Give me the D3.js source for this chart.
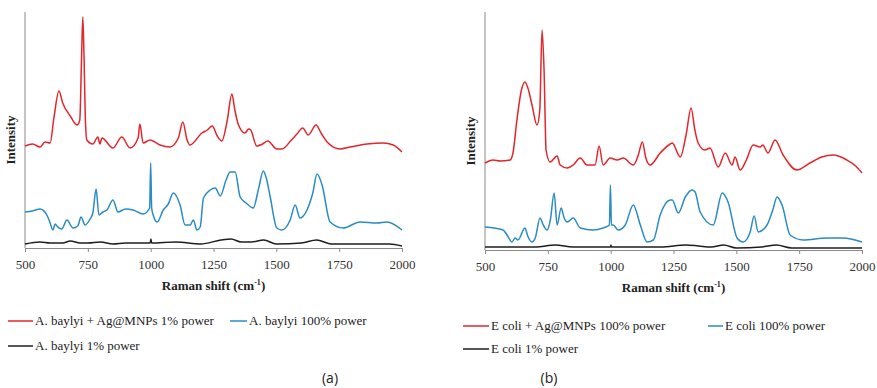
<!DOCTYPE html>
<html>
<head>
<meta charset="utf-8">
<script src="https://cdn.jsdelivr.net/npm/d3@7"></script>
<style>
  body { margin: 0; background: #fff; }
  svg text { font-family: "Liberation Serif", "DejaVu Serif", serif; }
</style>
</head>
<body>
<script>
const width = 877;
const height = 388;

// tick values for x (Raman shift)
const xTicks = [500, 750, 1000, 1250, 1500, 1750, 2000];

// (a) A. baylyi, [wavenumber, intensity a.u.]
const baylyiAg = [[500,102],[530,104],[560,101],[580,106],[600,105],[615,130],[635,157],[650,145],[680,132],[707,123],[718,128],[725,190],[730,231],[735,190],[740,130],[746,108],[770,104],[790,111],[798,104],[806,110],[850,100],[885,111],[918,100],[950,110],[957,124],[970,105],[998,108],[1037,103],[1077,101],[1110,110],[1128,126],[1145,108],[1156,103],[1204,115],[1225,118],[1245,122],[1265,112],[1283,107],[1305,128],[1323,154],[1335,138],[1348,124],[1375,115],[1390,119],[1398,118],[1422,102],[1445,104],[1466,107],[1502,99],[1522,99],[1560,108],[1582,114],[1605,120],[1627,113],[1658,123],[1680,114],[1702,106],[1754,99],[1794,101],[1861,104],[1925,105],[1965,103],[2000,96]];
const baylyi100 = [[500,36],[530,37],[560,39],[587,33],[600,25],[611,18],[620,24],[627,22],[646,19],[667,28],[691,20],[710,22],[723,31],[739,23],[759,29],[770,35],[783,59],[794,33],[810,36],[826,38],[850,48],[870,36],[900,39],[930,38],[970,34],[996,40],[1000,85],[1004,40],[1010,33],[1026,26],[1050,38],[1070,44],[1090,55],[1117,43],[1137,23],[1157,23],[1170,28],[1184,18],[1197,21],[1210,50],[1237,58],[1257,60],[1277,52],[1300,68],[1316,76],[1336,76],[1356,51],[1380,45],[1408,40],[1430,60],[1448,77],[1460,70],[1475,52],[1502,20],[1522,18],[1555,28],[1575,43],[1594,30],[1622,38],[1645,55],[1662,74],[1682,63],[1714,26],[1766,20],[1833,26],[1900,25],[1940,26],[2000,18]];
const baylyi1 = [[500,4],[560,6],[600,5],[650,5],[680,7],[720,5],[750,5],[800,6],[850,4],[900,5],[998,5],[1001,9],[1004,5],[1100,6],[1200,4],[1280,8],[1320,9],[1360,6],[1400,6],[1450,8],[1500,4],[1600,5],[1660,8],[1720,4],[1850,4],[1950,4],[2000,2]];

// (b) E coli
const ecoliAg = [[500,87],[532,90],[560,89],[600,90],[612,98],[627,130],[645,160],[659,168],[673,160],[687,145],[707,125],[718,140],[727,220],[735,180],[743,100],[759,88],[787,94],[799,85],[827,82],[851,85],[879,92],[906,85],[938,85],[954,104],[970,85],[998,92],[1026,90],[1050,92],[1090,85],[1110,95],[1126,108],[1140,92],[1157,85],[1197,97],[1237,106],[1245,107],[1277,93],[1300,115],[1320,142],[1335,120],[1348,107],[1375,100],[1395,102],[1428,83],[1456,97],[1483,85],[1495,93],[1515,80],[1540,90],[1567,105],[1595,103],[1605,105],[1626,97],[1654,110],[1686,95],[1741,80],[1793,87],[1840,93],[1885,95],[1940,90],[1975,84],[2000,77]];
const ecoli100 = [[500,23],[572,20],[590,14],[607,8],[620,12],[631,10],[659,22],[670,14],[687,8],[700,12],[719,32],[730,26],[747,20],[760,30],[775,57],[787,25],[803,42],[815,32],[827,28],[851,32],[879,22],[930,20],[970,22],[995,25],[999,65],[1003,25],[1010,25],[1030,20],[1058,25],[1090,45],[1118,25],[1145,8],[1170,10],[1197,35],[1237,50],[1245,50],[1269,37],[1297,53],[1324,60],[1336,58],[1356,38],[1408,25],[1444,57],[1467,48],[1503,12],[1527,8],[1555,18],[1571,34],[1587,18],[1622,25],[1645,40],[1662,53],[1682,45],[1714,15],[1766,10],[1861,12],[1924,12],[2000,8]];
const ecoli1 = [[500,3],[600,3],[700,3],[780,5],[850,3],[999,3],[1001,5],[1003,3],[1100,3],[1200,3],[1300,5],[1350,4],[1400,3],[1450,5],[1500,2],[1600,3],[1660,5],[1720,2],[1850,2],[2000,2]];

const colors = { red: "#e3262b", blue: "#2a8bc5", black: "#1e1e1e" };
const serif = "'Liberation Serif', 'DejaVu Serif', serif";

const svg = d3.select("body").append("svg")
  .attr("width", width).attr("height", height);

const panels = [
  {
    left: 25, right: 402, top: 12, bottom: 248, ymax: 236, label: "(a)", labelX: 330,
    series: [[baylyiAg, colors.red], [baylyi100, colors.blue], [baylyi1, colors.black]],
    legend: [
      { text: "A. baylyi + Ag@MNPs 1% power", color: colors.red, x1: 8, x2: 33, y: 321 },
      { text: "A. baylyi 100% power", color: colors.blue, x1: 230, x2: 247, y: 321 },
      { text: "A. baylyi 1% power", color: colors.black, x1: 8, x2: 33, y: 346 }
    ]
  },
  {
    left: 485, right: 862, top: 12, bottom: 250, ymax: 238, label: "(b)", labelX: 549,
    series: [[ecoliAg, colors.red], [ecoli100, colors.blue], [ecoli1, colors.black]],
    legend: [
      { text: "E coli + Ag@MNPs 100% power", color: colors.red, x1: 463, x2: 489, y: 326 },
      { text: "E coli 100% power", color: colors.blue, x1: 708, x2: 723, y: 326 },
      { text: "E coli 1% power", color: colors.black, x1: 463, x2: 489, y: 349 }
    ]
  }
];

panels.forEach(p => {
  const x = d3.scaleLinear().domain([500, 2000]).range([p.left, p.right]);
  const y = d3.scaleLinear().domain([0, p.ymax]).range([p.bottom, p.top]);
  const g = svg.append("g");

  // y axis line only
  g.append("line")
    .attr("x1", p.left).attr("x2", p.left)
    .attr("y1", p.top).attr("y2", p.bottom)
    .attr("stroke", "#8a8a8a").attr("stroke-width", 1);

  const xAxis = g.append("g")
    .attr("transform", `translate(0,${p.bottom})`)
    .call(d3.axisBottom(x).tickValues(xTicks).tickFormat(d3.format("d"))
      .tickSize(4).tickSizeOuter(0).tickPadding(8));
  xAxis.select(".domain").attr("stroke", "#8a8a8a");
  xAxis.selectAll(".tick line").attr("stroke", "#8a8a8a");
  xAxis.selectAll("text")
    .style("font-family", serif)
    .attr("font-size", 13).attr("fill", "#333");

  const line = d3.line().x(d => x(d[0])).y(d => y(d[1])).curve(d3.curveMonotoneX);
  p.series.forEach(([data, c]) => {
    g.append("path").datum(data)
      .attr("d", line)
      .attr("fill", "none")
      .attr("stroke", c).attr("stroke-width", 1.5)
      .attr("stroke-linejoin", "round");
  });

  // axis titles
  const xt = g.append("text")
    .attr("x", (p.left + p.right) / 2).attr("y", p.bottom + 42)
    .attr("text-anchor", "middle")
    .style("font-family", serif)
    .attr("font-size", 13).attr("font-weight", "bold").attr("fill", "#222");
  xt.append("tspan").text("Raman shift (cm");
  xt.append("tspan").attr("font-size", 8).attr("dy", -5).text("-1");
  xt.append("tspan").attr("dy", 5).text(")");

  g.append("text")
    .attr("transform", `translate(${p.left - 10},${(p.top + p.bottom) / 2 + 10}) rotate(-90)`)
    .attr("text-anchor", "middle")
    .style("font-family", serif)
    .attr("font-size", 13).attr("font-weight", "bold").attr("fill", "#222")
    .text("Intensity");

  // legend
  p.legend.forEach(l => {
    g.append("line")
      .attr("x1", l.x1).attr("x2", l.x2).attr("y1", l.y).attr("y2", l.y)
      .attr("stroke", l.color).attr("stroke-width", 1.5);
    g.append("text")
      .attr("x", l.x2 + 2).attr("y", l.y + 4)
      .style("font-family", serif)
      .attr("font-size", 13).attr("fill", "#222")
      .text(l.text);
  });

  g.append("text")
    .attr("x", p.labelX).attr("y", 383)
    .attr("text-anchor", "middle")
    .style("font-family", "'Open Sans', 'Liberation Sans', sans-serif")
    .attr("font-size", 14).attr("fill", "#222")
    .text(p.label);
});
</script>
</body>
</html>
